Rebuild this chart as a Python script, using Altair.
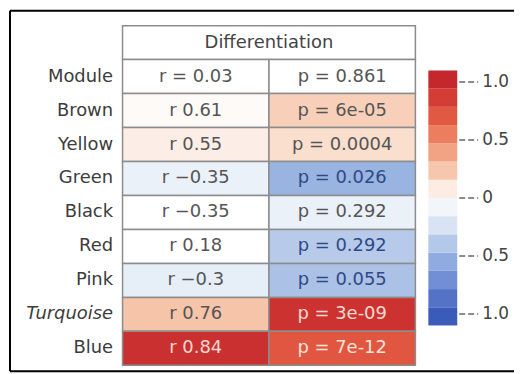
import altair as alt
import pandas as pd

# ---- data ----
modules = ["Module", "Brown", "Yellow", "Green", "Black", "Red", "Pink", "Turquoise", "Blue"]
r_text = ["r = 0.03", "r 0.61", "r 0.55", "r −0.35", "r −0.35", "r 0.18", "r −0.3", "r 0.76", "r 0.84"]
p_text = ["p = 0.861", "p = 6e-05", "p = 0.0004", "p = 0.026", "p = 0.292", "p = 0.292",
          "p = 0.055", "p = 3e-09", "p = 7e-12"]
# colour value of each cell, estimated from its fill
r_shade = [0.0, 0.02, 0.07, -0.12, 0.0, 0.0, -0.15, 0.25, 0.95]
p_shade = [0.0, 0.20, 0.14, -0.50, -0.12, -0.38, -0.43, 0.93, 0.72]
header = "Differentiation"

legend_values = [1.0, 0.5, 0.0, -0.5, -1.0]
legend_labels = ["1.0", "0.5", "0", "0.5", "1.0"]
legend_edges = [-1.1, -0.943, -0.786, -0.629, -0.471, -0.314, -0.157, 0.0,
                0.157, 0.314, 0.471, 0.629, 0.786, 0.943, 1.1]

color_domain = [-1.0, -0.75, -0.5, -0.25, 0.0, 0.25, 0.5, 0.75, 1.0]
color_range = ["#3a5bb8", "#6a88d2", "#9ab4e2", "#d6e2f2", "#ffffff",
               "#f6c4a8", "#ef8a68", "#df4f3c", "#c4282c"]

FONT = "DejaVu Sans"
W, H = 506, 362

cells_df = pd.DataFrame({
    "module": modules * 2,
    "col": [0] * len(modules) + [1] * len(modules),
    "label": r_text + p_text,
    "shade": r_shade + p_shade,
})
hdr_df = pd.DataFrame({"module": ["hdr"], "x0": [0], "x1": [2], "xc": [1], "label": [header]})
cb_df = pd.DataFrame({
    "lo": legend_edges[:-1],
    "hi": legend_edges[1:],
})
cb_df["shade"] = (cb_df["lo"] + cb_df["hi"]) / 2
lg_df = pd.DataFrame({"v": legend_values, "lab": legend_labels})

y_domain = ["hdr"] + modules
yscale = alt.Scale(domain=y_domain, range=[15, 356], paddingInner=0, paddingOuter=0)
xscale = alt.Scale(domain=[0, 2], range=[113, 407])
cscale = alt.Scale(domain=color_domain, range=color_range, interpolate="rgb", clamp=True)
cbscale = alt.Scale(domain=[-1.1, 1.1], range=[316, 60], nice=False, zero=False)

y_axis = alt.Axis(
    title=None, domain=False, ticks=False, grid=False, orient="left", offset=-113,
    labelPadding=10, labelFont=FONT, labelFontSize=18, labelColor="#3c3c3c",
    labelExpr="datum.value == 'hdr' ? '' : datum.value",
    labelFontStyle=alt.ExprRef(expr="datum.value == 'Turquoise' ? 'italic' : 'normal'"),
)
yenc = alt.Y("module:N", scale=yscale, axis=y_axis)

hdr_rect = alt.Chart(hdr_df).mark_rect(fill="white", stroke="#8c8c8c", strokeWidth=1.5).encode(
    x=alt.X("x0:Q", scale=xscale, axis=None),
    x2="x1:Q",
    y=yenc,
)
hdr_text = alt.Chart(hdr_df).mark_text(font=FONT, fontSize=18, color="#444444").encode(
    x=alt.X("xc:Q", scale=xscale, axis=None),
    y=yenc,
    text="label:N",
)
cells = alt.Chart(cells_df).transform_calculate(x1="datum.col + 1").mark_rect(
    stroke="#8c8c8c", strokeWidth=1.5
).encode(
    x=alt.X("col:Q", scale=xscale, axis=None),
    x2="x1:Q",
    y=yenc,
    fill=alt.Fill("shade:Q", scale=cscale, legend=None),
)
cell_text = alt.Chart(cells_df).transform_calculate(
    xc="datum.col + 0.5",
    tc="datum.shade > 0.8 ? '#f8d8d0' : (datum.shade > 0.6 ? '#fbe3d6' : (datum.shade < -0.3 ? '#2e4a86' : '#555555'))",
).mark_text(font=FONT, fontSize=18).encode(
    x=alt.X("xc:Q", scale=xscale, axis=None),
    y=yenc,
    text="label:N",
    color=alt.Color("tc:N", scale=None),
)
table = alt.layer(hdr_rect, cells, hdr_text, cell_text)

cbar = alt.Chart(cb_df).mark_rect().encode(
    x=alt.value(420), x2=alt.value(449),
    y=alt.Y("lo:Q", scale=cbscale, axis=None),
    y2="hi:Q",
    fill=alt.Fill("shade:Q", scale=cscale, legend=None),
)
ticks = alt.Chart(lg_df).mark_rule(color="#666666", strokeWidth=1.5, strokeDash=[6, 3]).encode(
    x=alt.value(451), x2=alt.value(470),
    y=alt.Y("v:Q", scale=cbscale, axis=None),
)
labels = alt.Chart(lg_df).mark_text(font=FONT, fontSize=17, color="#444444", align="left",
                                     baseline="middle").encode(
    x=alt.value(474),
    y=alt.Y("v:Q", scale=cbscale, axis=None),
    text="lab:N",
)
# frame: top, left and bottom edges (the reference is cut off on the right)
frame_top = alt.Chart().mark_rule(color="black", strokeWidth=2).encode(
    x=alt.value(0), x2=alt.value(W), y=alt.value(0))
frame_left = alt.Chart().mark_rule(color="black", strokeWidth=2).encode(
    x=alt.value(0), y=alt.value(0), y2=alt.value(H))
frame_bottom = alt.Chart().mark_rule(color="black", strokeWidth=2).encode(
    x=alt.value(0), x2=alt.value(W), y=alt.value(H))

legend = alt.layer(cbar, ticks, labels)

chart = alt.layer(table, legend, frame_top, frame_left, frame_bottom).resolve_scale(
    y="independent"
).properties(
    width=W, height=H,
    padding={"left": 1, "top": 1, "right": 0, "bottom": 1},
).configure_view(stroke=None)

chart.save("out.html", embed_options={"renderer": "svg", "actions": False})
